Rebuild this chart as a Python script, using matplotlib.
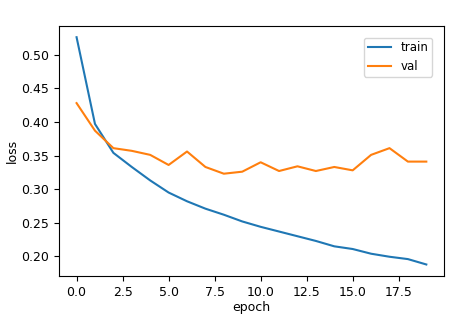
import numpy as np
import matplotlib.pyplot as plt

epochs = np.arange(20)
train_loss = [0.526, 0.397, 0.354, 0.333, 0.313, 0.295, 0.282, 0.271, 0.262, 0.252,
              0.244, 0.237, 0.230, 0.223, 0.215, 0.211, 0.204, 0.1995, 0.196, 0.188]
val_loss = [0.428, 0.387, 0.361, 0.357, 0.351, 0.336, 0.356, 0.333, 0.323, 0.326,
            0.340, 0.327, 0.334, 0.327, 0.333, 0.328, 0.351, 0.361, 0.341, 0.341]

plt.rcParams['font.size'] = 9

fig = plt.figure(figsize=(4.58, 3.23), dpi=100)
ax = fig.add_axes([0.129, 0.146, 0.840, 0.774])
ax.plot(epochs, train_loss, label='train')
ax.plot(epochs, val_loss, label='val')
ax.set_xlabel('epoch', labelpad=2)
ax.set_ylabel('loss', labelpad=2)
ax.legend(loc='upper right', fontsize=8.5, borderaxespad=1.0, borderpad=0.3)

fig.savefig('out.png')
